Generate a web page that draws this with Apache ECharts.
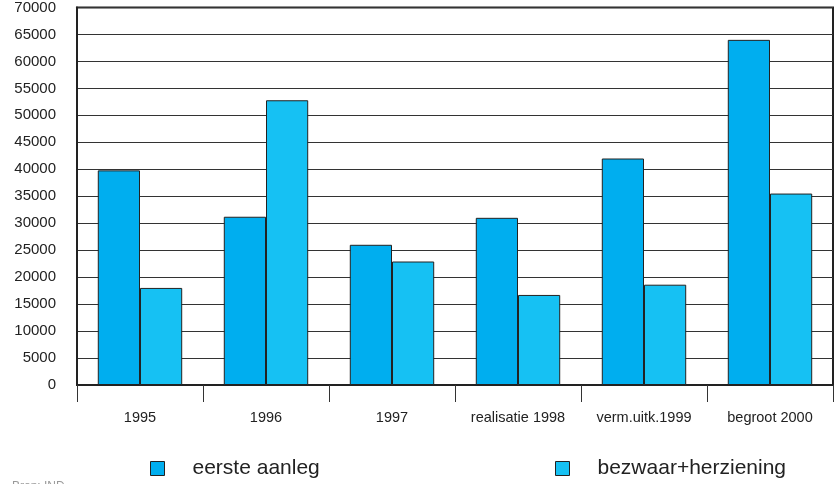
<!DOCTYPE html>
<html>
<head>
<meta charset="utf-8">
<script src="https://cdn.jsdelivr.net/npm/echarts@6/dist/echarts.min.js"></script>
<style>html,body{margin:0;padding:0;background:#fff}#c{width:839px;height:484px}</style>
</head>
<body>
<div id="c"></div>
<script>
var categories = ['1995', '1996', '1997', 'realisatie 1998', 'verm.uitk.1999', 'begroot 2000'];
var eersteAanleg = [39800, 31200, 26000, 31000, 42000, 64000];
var bezwaarHerziening = [18000, 52800, 22900, 16700, 18600, 35500];
var seriesNames = ['eerste aanleg', 'bezwaar+herziening'];

var chart = echarts.init(document.getElementById('c'));
var font = 'Liberation Sans, Arial, Helvetica, sans-serif';
chart.setOption({
  animation: false,
  backgroundColor: '#fff',
  grid: { left: 77, right: 6, top: 7, bottom: 99, show: true, borderColor: '#222', borderWidth: 2, backgroundColor: 'transparent' },
  legend: [
    { data: [seriesNames[0]], left: 145, top: 453, icon: 'rect', itemWidth: 14, itemHeight: 14,
      itemStyle: { borderColor: '#222', borderWidth: 1 },
      textStyle: { fontFamily: font, fontSize: 21, color: '#222', padding: [0, 0, 0, 23] } },
    { data: [seriesNames[1]], left: 550, top: 453, icon: 'rect', itemWidth: 14, itemHeight: 14,
      itemStyle: { borderColor: '#222', borderWidth: 1 },
      textStyle: { fontFamily: font, fontSize: 21, color: '#222', padding: [0, 0, 0, 23] } }
  ],
  xAxis: {
    type: 'category', data: categories,
    axisLine: { show: true, lineStyle: { color: '#222', width: 2 } },
    axisTick: { show: true, interval: 0, length: 17, lineStyle: { color: '#333', width: 1 } },
    axisLabel: { interval: 0, fontFamily: font, fontSize: 14.5, color: '#222', margin: 25 }
  },
  yAxis: {
    type: 'value', min: 0, max: 70000, interval: 5000,
    axisLine: { show: true, lineStyle: { color: '#222', width: 2 } },
    axisTick: { show: false },
    axisLabel: { fontFamily: font, fontSize: 15, color: '#222', margin: 21, formatter: function (v) { return String(v); } },
    splitLine: { show: true, lineStyle: { color: '#333', width: 1 } }
  },
  series: [
    { name: seriesNames[0], type: 'bar', data: eersteAanleg, barGap: '0%', barCategoryGap: '33%',
      itemStyle: { color: '#00aeef', borderColor: '#222', borderWidth: 1 } },
    { name: seriesNames[1], type: 'bar', data: bezwaarHerziening,
      itemStyle: { color: '#16c1f3', borderColor: '#222', borderWidth: 1 } }
  ],
  graphic: [
    { type: 'text', left: 12, top: 481, style: { text: 'Bron: IND', font: '12px ' + font, fill: '#999' } }
  ]
});
</script>
</body>
</html>
